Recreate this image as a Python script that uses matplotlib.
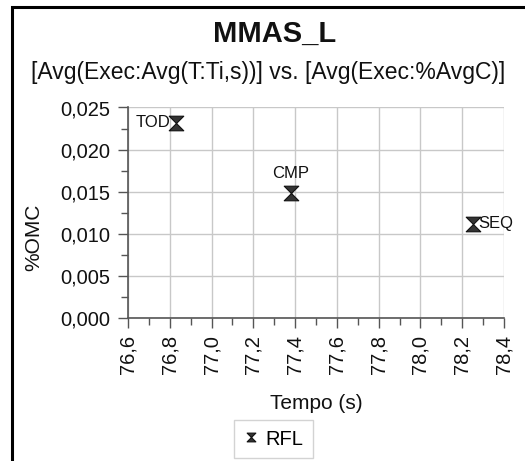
import matplotlib
matplotlib.use("Agg")
import matplotlib.pyplot as plt
from matplotlib.path import Path
from matplotlib.patches import Rectangle
from matplotlib.ticker import MultipleLocator, FuncFormatter

plt.rcParams['font.family'] = ['Liberation Sans', 'DejaVu Sans']

# Average execution time (s) vs. %OMC for the MMAS_L runs
labels = ["TOD", "CMP", "SEQ"]
tempo = [76.83, 77.38, 78.25]
omc = [0.0231, 0.0149, 0.0112]
series_name = "RFL"

title = "MMAS_L"
subtitle = "[Avg(Exec:Avg(T:Ti,s))] vs. [Avg(Exec:%AvgC)]"
xlabel = "Tempo (s)"
ylabel = "%OMC"

# hourglass marker: two triangles meeting at the centre
hourglass = Path([(-1, 1), (1, 1), (-1, -1), (1, -1), (-1, 1)],
                 [Path.MOVETO, Path.LINETO, Path.LINETO, Path.LINETO, Path.CLOSEPOLY])

fig = plt.figure(figsize=(5.25, 4.61), dpi=100)
ax = fig.add_axes([128 / 525, 1 - 318 / 461, (504 - 128) / 525, (318 - 107.5) / 461])

ax.plot(tempo, omc, linestyle='none', marker=hourglass, markersize=10.5,
        markerfacecolor='#333333', markeredgecolor='#111111', markeredgewidth=0.8,
        label=series_name, zorder=3)

offsets = {"TOD": (-4, 1, 'right', 'center'),
           "CMP": (0, 8, 'center', 'bottom'),
           "SEQ": (4, 0, 'left', 'center')}
for name, x, y in zip(labels, tempo, omc):
    dx, dy, ha, va = offsets[name]
    ax.annotate(name, (x, y), xytext=(dx, dy), textcoords='offset points',
                ha=ha, va=va, fontsize=12, color='#111111')

ax.set_xlim(76.6, 78.4)
ax.set_ylim(0.0, 0.025)
ax.xaxis.set_major_locator(MultipleLocator(0.2))
ax.xaxis.set_minor_locator(MultipleLocator(0.1))
ax.yaxis.set_major_locator(MultipleLocator(0.005))
ax.yaxis.set_minor_locator(MultipleLocator(0.0025))
ax.xaxis.set_major_formatter(FuncFormatter(lambda v, p: f"{v:.1f}".replace('.', ',')))
ax.yaxis.set_major_formatter(FuncFormatter(lambda v, p: f"{v:.3f}".replace('.', ',')))

ax.grid(True, which='major', color='#c8c8c8', linewidth=1.0)
ax.set_axisbelow(True)
for side in ('top', 'right'):
    ax.spines[side].set_visible(False)
for side in ('left', 'bottom'):
    ax.spines[side].set_color('#555555')
    ax.spines[side].set_linewidth(1.2)

ax.tick_params(which='major', direction='out', length=7.5, width=1.0, color='#555555',
               labelsize=14.5, labelcolor='#111111')
ax.tick_params(which='minor', direction='out', length=5, width=1.0, color='#555555')
ax.tick_params(axis='y', which='major', pad=5)
ax.tick_params(axis='x', which='major', labelrotation=90, pad=5)

ax.set_xlabel(xlabel, fontsize=15, labelpad=14, color='#111111')
ax.set_ylabel(ylabel, fontsize=15, labelpad=11, color='#111111')
ax.yaxis.set_label_coords(-0.225, 0.385)

fig.text(0.524, 1 - 34 / 461, title, ha='center', va='center', fontsize=21,
         fontweight='bold', color='#111111')
fig.text(0.511, 1 - 73 / 461, subtitle, ha='center', va='center', fontsize=16.5,
         color='#111111')

leg = fig.legend(loc='center', bbox_to_anchor=(273.5 / 525, 1 - 439 / 461), fontsize=14.5,
                 frameon=True, fancybox=False, edgecolor='#c8c8c8', markerscale=0.6,
                 handlelength=0.7, handletextpad=0.4, borderpad=0.45)
leg.get_frame().set_linewidth(1.0)

# outer frame around the chart area
fig.add_artist(Rectangle((11.5 / 525, -0.1), 1.2, 1.1 - 7.5 / 461, fill=False,
                         linewidth=2.2, edgecolor='black', transform=fig.transFigure))

fig.savefig("out.png", dpi=100)
